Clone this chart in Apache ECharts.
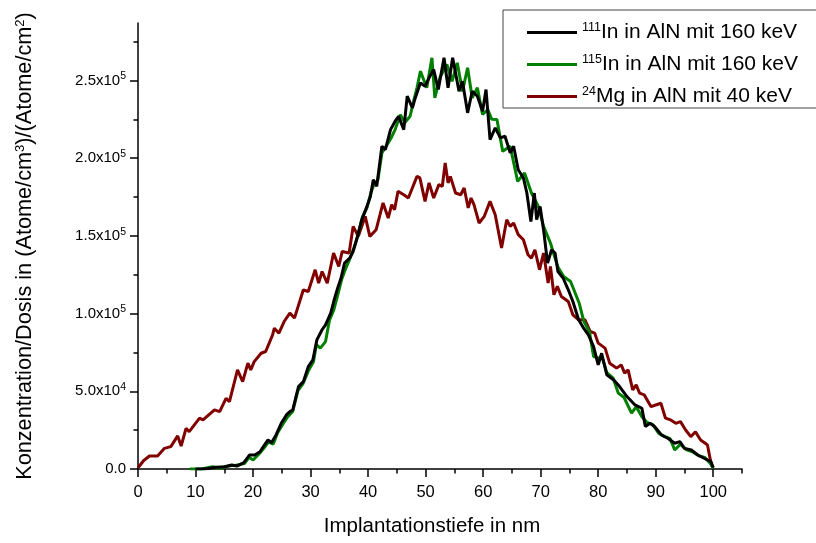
<!DOCTYPE html>
<html>
<head>
<meta charset="utf-8">
<script src="https://cdn.jsdelivr.net/npm/echarts@6/dist/echarts.min.js"></script>
<style>html,body{margin:0;padding:0;background:#fff}#c{width:816px;height:543px}</style>
</head>
<body>
<div id="c"></div>
<script>
// ---- data ----
const seriesNames = ['111In in AlN mit 160 keV', '115In in AlN mit 160 keV', '24Mg in AlN mit 40 keV'];
const seriesSup = ['111', '115', '24'];
const seriesText = ['In in AlN mit 160 keV', 'In in AlN mit 160 keV', 'Mg in AlN mit 40 keV'];

const xMajorTicks = [0, 10, 20, 30, 40, 50, 60, 70, 80, 90, 100];
const xMinorTicks = [5, 15, 25, 35, 45, 55, 65, 75, 85, 95, 105];
const yMajorTicks = [0, 50000, 100000, 150000, 200000, 250000];
const yMinorTicks = [25000, 75000, 125000, 175000, 225000, 275000];

const mgX = [0,0.2,1.0,2.0,3.4,4.6,5.7,6.9,7.5,8.35,8.9,10.7,11.3,13.3,14.2,15.3,15.9,17.3,18.2,19.1,19.6,20.2,21.4,22.2,23.4,23.7,24.5,25.4,26.4,27.2,28.75,29.6,30.8,31.4,32.0,32.9,34.0,34.9,35.5,36.7,37.4,38.3,39.5,40.3,41.4,42.6,43.5,44.1,44.6,45.2,46.2,47.0,48.5,49.0,49.9,50.6,51.4,52.3,52.9,53.4,53.9,54.3,55.2,56.1,56.7,57.4,57.9,58.4,59.3,60.2,61.2,62.1,63.2,64.1,64.7,65.3,66.1,67.0,67.8,68.4,69.0,69.8,70.5,71.3,71.7,72.3,72.9,73.6,74.8,75.6,76.6,77.7,78.6,79.4,80.0,81.2,82.0,83.2,84.0,84.6,85.2,86.0,86.6,87.2,88.0,89.2,90.0,90.9,91.7,92.6,93.5,94.3,95.2,96.1,96.9,97.8,98.6,99.0,99.5,99.8];
const mgY = [800,1500,5500,8400,8400,13300,14400,21300,14800,26200,24000,32700,31600,38000,36900,45500,43400,63800,56200,68100,63800,69100,74500,75600,86300,90600,87400,94900,100300,97100,115300,114200,128200,119600,127100,119600,139000,130300,140000,139000,156100,149700,162600,149700,154000,171200,161500,170100,166900,178700,176500,174400,188300,187300,172200,184100,174400,183000,181900,197000,184100,188300,177600,176500,180800,168000,174400,170100,158300,162600,172200,163600,142200,160400,156100,158300,150800,147500,137900,135700,141100,128200,139000,119600,130300,112100,117500,111000,107800,99200,96000,96000,88500,87400,81000,77800,68100,64900,67000,61700,63800,50900,54100,48800,47700,40100,41200,42300,32700,31600,29400,30500,25100,20800,24000,18700,16600,15500,5800,1500];

const in111X = [10.0,11.5,13.6,15.1,16.3,17.2,18.4,19.4,20.3,21.2,22.0,22.6,23.2,24.0,24.9,25.8,26.4,26.9,27.9,28.75,29.6,30.4,31.1,32.0,32.6,33.5,34.1,34.7,35.3,35.9,36.8,37.4,38.0,38.9,39.8,40.4,40.9,41.5,42.4,43.0,43.9,44.7,45.3,46.2,46.8,47.7,48.2,49.1,49.9,50.6,51.4,52.2,53.2,53.9,54.7,55.8,56.4,57.3,58.1,59.0,59.9,60.5,61.2,62.1,63.0,63.8,64.7,65.3,66.1,67.0,67.6,68.3,68.9,69.3,69.9,70.5,71.2,71.9,72.5,73.0,73.9,74.8,75.6,76.6,77.4,78.3,79.2,80.0,80.6,81.5,82.7,83.5,85.0,86.4,87.6,88.2,89.0,89.8,91.0,92.1,93.3,94.2,95.0,96.2,97.3,98.4,99.6,100.0];
const in111Y = [0,0,1100,1500,2600,1900,4100,9000,9000,11100,15500,18700,16900,21900,29400,34800,36900,38000,53000,56200,65900,70200,83100,89600,92800,100300,108900,116400,122900,132500,135700,140000,147500,160400,169000,175400,186200,181900,207700,205500,218400,223800,227000,218400,239900,232400,238800,248500,246300,251700,257100,244200,264600,245300,264600,243100,249500,229200,243100,239900,230200,244200,212000,219500,213100,214100,203400,207700,192600,187300,177600,159300,177600,160400,169000,154000,132500,141100,139000,127100,122900,115300,107800,96000,91000,86300,78800,67000,74500,60600,57300,54100,46600,41200,39100,27300,29400,27300,21900,19800,16600,17600,13300,12200,9000,6900,4700,1000];

const in115X = [9.0,11.0,13.0,14.0,15.5,17.0,18.5,19.3,20.0,21.0,21.9,22.7,23.5,24.3,25.2,26.0,26.9,27.8,28.7,29.6,30.5,31.0,31.7,32.6,33.3,34.0,34.8,35.4,36.0,36.9,37.6,38.2,39.0,39.8,40.5,41.0,41.7,42.4,43.2,44.0,44.7,45.6,46.4,47.3,48.0,48.5,49.1,50.2,51.1,51.6,52.5,53.7,54.6,55.5,56.4,57.3,58.1,59.0,59.9,60.8,61.5,62.4,63.4,64.7,66.0,67.2,68.4,69.6,70.5,71.7,72.3,73.0,74.0,75.2,76.7,77.5,78.5,79.2,80.0,80.8,81.5,82.6,83.5,84.5,85.8,86.6,87.6,88.5,89.5,90.5,91.5,92.5,93.3,94.3,95.3,96.5,97.5,98.5,99.5,100.0];
const in115Y = [0,0,1500,500,1800,2500,3500,7500,5800,9500,13500,17500,16000,23500,29000,33500,37000,50500,55000,63000,69000,80000,77800,82000,96000,102000,113000,122000,128000,136000,143000,150000,162000,168000,178000,183000,186000,203400,208000,213000,218400,228000,223000,227000,238000,245300,256000,245300,264600,238800,252000,260300,249500,261400,243000,258200,238800,245300,228100,231300,225000,224900,204400,207700,185100,190500,177600,169000,156100,145400,138000,130000,123900,120700,106700,95000,88000,72400,71500,70500,62000,58500,48800,46000,35900,40000,33700,30000,28500,23000,21000,19500,12200,16000,12500,10800,8500,7500,3500,500];

// ---- chart ----
const FONT = 'Liberation Sans, Arial, sans-serif';
const zip = (xs, ys) => xs.map((x, i) => [x, ys[i]]);
const colors = ['#000000', '#008000', '#800000'];

function yLabel(v) {
  if (v === 0) return '0.0';
  const e = Math.floor(Math.log10(v));
  const m = (v / Math.pow(10, e)).toFixed(1);
  return m + 'x10{sup|' + e + '}';
}

const chart = echarts.init(document.getElementById('c'), null, {renderer: 'canvas'});
chart.setOption({
  animation: false,
  textStyle: {fontFamily: FONT},
  grid: {left: 138, right: 74, top: 23, bottom: 74, containLabel: false},
  legend: {
    orient: 'vertical',
    left: 503, top: 10,
    padding: [11, 40, 1, 24],
    itemGap: 10,
    itemWidth: 50, itemHeight: 3,
    icon: 'rect',
    borderColor: '#444', borderWidth: 1,
    data: [seriesNames[0], seriesNames[1], seriesNames[2]],
    formatter: function (name) {
      const i = seriesNames.indexOf(name);
      return '{sup|' + seriesSup[i] + '}{n|' + seriesText[i] + '}';
    },
    textStyle: {
      fontFamily: FONT, color: '#000', fontSize: 21,
      rich: {
        sup: {fontSize: 12.5, fontFamily: FONT, color: '#000', padding: [0, 0, 10, 0]},
        n: {fontSize: 21, fontFamily: FONT, color: '#000'}
      }
    }
  },
  xAxis: [{
    type: 'value', min: 0, max: 105, position: 'bottom',
    name: 'Implantationstiefe in nm', nameLocation: 'middle', nameGap: 47,
    nameTextStyle: {fontFamily: FONT, fontSize: 20.5, color: '#000', padding: [0, 16, 0, 0]},
    axisLine: {show: true, onZero: false, lineStyle: {color: '#000', width: 1.5}},
    axisTick: {show: true, inside: false, length: 8, customValues: xMajorTicks, lineStyle: {color: '#000', width: 1.5}},
    axisLabel: {customValues: xMajorTicks, margin: 15, fontFamily: FONT, fontSize: 16.5, color: '#000'},
    splitLine: {show: false}
  }, {
    type: 'value', min: 0, max: 105, position: 'bottom',
    axisLine: {show: false},
    axisTick: {show: true, inside: false, length: 4.5, customValues: xMinorTicks, lineStyle: {color: '#000', width: 1.5}},
    axisLabel: {show: false},
    splitLine: {show: false}
  }],
  yAxis: [{
    type: 'value', min: 0, max: 287000, position: 'left',
    name: '{n|Konzentration/Dosis in (Atome/cm}{sup|3}{n|)/(Atome/cm}{sup|2}{n|)}',
    nameLocation: 'middle', nameGap: 101, nameRotate: 90,
    nameTextStyle: {
      fontFamily: FONT, fontSize: 21.7, color: '#000',
      rich: {
        n: {fontFamily: FONT, fontSize: 21.7, color: '#000'},
        sup: {fontFamily: FONT, fontSize: 13, color: '#000', padding: [0, 0, 10, 0]}
      }
    },
    axisLine: {show: true, onZero: false, lineStyle: {color: '#000', width: 1.5}},
    axisTick: {show: true, inside: false, length: 8, customValues: yMajorTicks, lineStyle: {color: '#000', width: 1.5}},
    axisLabel: {
      customValues: yMajorTicks, margin: 12, formatter: yLabel,
      fontFamily: FONT, fontSize: 15, color: '#000',
      rich: {sup: {fontFamily: FONT, fontSize: 10.5, color: '#000', padding: [0, 0, 8, 0]}}
    },
    splitLine: {show: false}
  }, {
    type: 'value', min: 0, max: 287000, position: 'left',
    axisLine: {show: false},
    axisTick: {show: true, inside: false, length: 4.5, customValues: yMinorTicks, lineStyle: {color: '#000', width: 1.5}},
    axisLabel: {show: false},
    splitLine: {show: false}
  }],
  series: [
    {name: seriesNames[2], type: 'line', data: zip(mgX, mgY), color: colors[2], symbol: 'none', lineStyle: {width: 3, color: colors[2]}, xAxisIndex: 0, yAxisIndex: 0},
    {name: seriesNames[1], type: 'line', data: zip(in115X, in115Y), color: colors[1], symbol: 'none', lineStyle: {width: 3, color: colors[1]}, xAxisIndex: 0, yAxisIndex: 0},
    {name: seriesNames[0], type: 'line', data: zip(in111X, in111Y), color: colors[0], symbol: 'none', lineStyle: {width: 3, color: colors[0]}, xAxisIndex: 0, yAxisIndex: 0}
  ]
});
</script>
</body>
</html>
